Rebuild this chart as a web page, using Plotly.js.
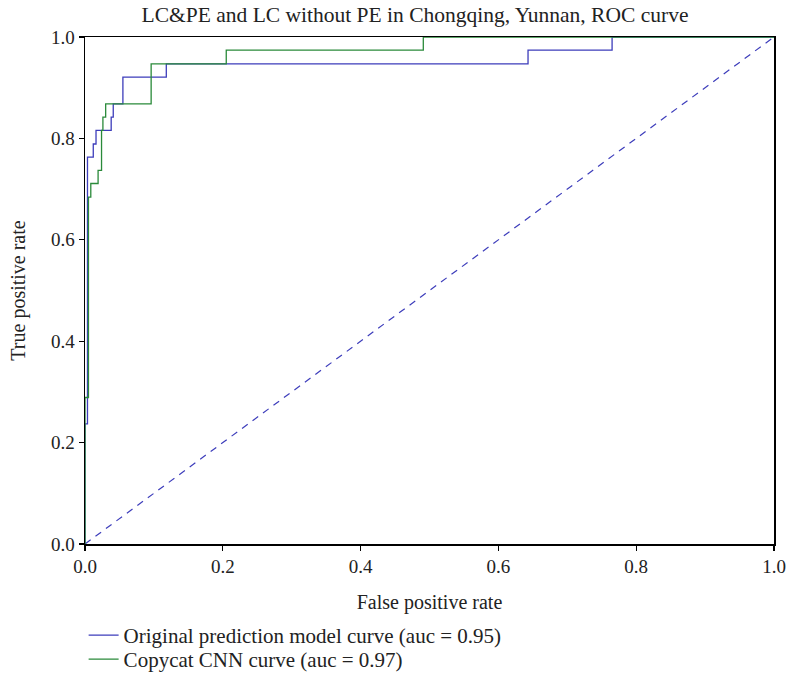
<!DOCTYPE html>
<html>
<head>
<meta charset="utf-8">
<script src="https://cdn.plot.ly/plotly-3.0.1.min.js"></script>
<style>html,body{margin:0;padding:0;background:#fff;}#chart{width:793px;height:677px;}</style>
</head>
<body>
<div id="chart"></div>
<script>
// Step corners (false positive rate, true positive rate), drawn with 'hv' steps
const origFpr = [0, 0, 0.0036, 0.012, 0.016, 0.038, 0.041, 0.055, 0.118, 0.643, 0.765, 1];
const origTpr = [0, 0.237, 0.763, 0.789, 0.816, 0.842, 0.868, 0.921, 0.947, 0.974, 1, 1];
const cnnFpr = [0, 0, 0.005, 0.0084, 0.019, 0.024, 0.026, 0.030, 0.096, 0.205, 0.491, 1];
const cnnTpr = [0, 0.289, 0.684, 0.711, 0.737, 0.816, 0.842, 0.868, 0.947, 0.974, 1, 1];
const chanceX = [0, 1];
const chanceY = [0, 1];
const seriesNames = ['Original prediction model curve (auc = 0.95)', 'Copycat CNN curve (auc = 0.97)'];
const tickVals = [0, 0.2, 0.4, 0.6, 0.8, 1.0];
const tickText = ['0.0', '0.2', '0.4', '0.6', '0.8', '1.0'];

const blue = '#3d3dbb';
const green = '#2a8a3a';
const font = 'Liberation Serif, Times New Roman, serif';

const traces = [
  {x: chanceX, y: chanceY, mode: 'lines', line: {color: blue, width: 1.2, dash: '7px,6px'}, showlegend: false, hoverinfo: 'skip'},
  {x: origFpr, y: origTpr, mode: 'lines', name: seriesNames[0], legend: 'legend', line: {color: blue, width: 1.3, shape: 'hv'}},
  {x: cnnFpr, y: cnnTpr, mode: 'lines', name: seriesNames[1], legend: 'legend2', line: {color: green, width: 1.3, shape: 'hv'}}
];

const axisCommon = {
  range: [0, 1], tickvals: tickVals, ticktext: tickText, automargin: false,
  showgrid: false, zeroline: false, showline: true, mirror: true,
  linecolor: '#000', linewidth: 1.5, ticks: 'outside', ticklen: 5, tickwidth: 1.2, tickcolor: '#000',
  tickfont: {family: font, size: 19, color: '#222'}
};

const legendCommon = {x: -0.002, xanchor: 'left', yref: 'container', yanchor: 'top', orientation: 'v',
  font: {family: font, size: 21, color: '#222'}, bgcolor: 'rgba(0,0,0,0)', itemwidth: 30, tracegroupgap: 0};

const layout = {
  width: 793, height: 677,
  margin: {l: 84.5, r: 19, t: 37, b: 132.5, autoexpand: false},
  paper_bgcolor: '#fff', plot_bgcolor: '#fff',
  font: {family: font, color: '#222'},
  title: {text: 'LC&amp;PE and LC without PE in Chongqing, Yunnan, ROC curve', font: {family: font, size: 21.5, color: '#222'},
          x: 0.479, xref: 'paper', xanchor: 'center', y: 0.979, yref: 'container', yanchor: 'middle'},
  xaxis: Object.assign({}, axisCommon, {title: {text: 'False positive rate', font: {family: font, size: 20, color: '#222'}, standoff: 18}}),
  yaxis: Object.assign({}, axisCommon, {title: {text: 'True positive rate', font: {family: font, size: 20, color: '#222'}, standoff: 20}}),
  showlegend: true,
  legend: Object.assign({}, legendCommon, {y: 0.0916}),
  legend2: Object.assign({}, legendCommon, {y: 0.0561})
};

Plotly.newPlot('chart', traces, layout, {displayModeBar: false, staticPlot: true});
</script>
</body>
</html>
